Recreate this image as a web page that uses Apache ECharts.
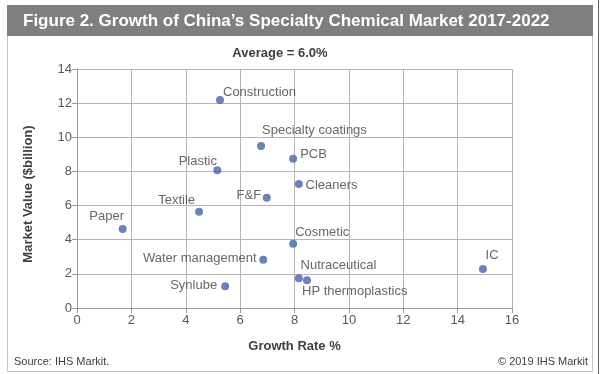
<!DOCTYPE html>
<html>
<head>
<meta charset="utf-8">
<script src="https://cdn.jsdelivr.net/npm/echarts@6/dist/echarts.min.js"></script>
<style>
html,body{margin:0;padding:0;background:#fff;}
#chart{width:600px;height:374px;}
</style>
</head>
<body>
<div id="chart"></div>
<script>
// ---- data ----
var categories = ['Construction','Specialty coatings','PCB','Plastic','Cleaners','F&F','Textile','Paper','Cosmetic','Water management','Nutraceutical','HP thermoplastics','Synlube','IC'];
var growthRate = [5.26, 6.77, 7.95, 5.16, 8.16, 6.98, 4.49, 1.68, 7.95, 6.85, 8.16, 8.46, 5.45, 14.93];
var marketValue = [12.18, 9.49, 8.75, 8.07, 7.26, 6.46, 5.64, 4.63, 3.77, 2.83, 1.74, 1.62, 1.27, 2.28];
var xTicks = [0, 2, 4, 6, 8, 10, 12, 14, 16];
var yTicks = [0, 2, 4, 6, 8, 10, 12, 14];

// ---- label placement (layout only) ----
var labelPlace = [
  ['right', -1, -8], ['right', -3, -16], ['right', 3, -4], ['left', 3.7, -9],
  ['right', 2.7, 1], ['left', -1.7, -2.7], ['left', 0, -11.7], ['left', 5.3, -13],
  ['right', -2, -11.4], ['left', -2.6, -1.4], ['right', -2.3, -13.3], ['right', -9, 10.7],
  ['left', -4, -1.3], ['right', -1.3, -14]
];

var points = categories.map(function (name, i) {
  return {
    name: name,
    value: [growthRate[i], marketValue[i]],
    label: {
      position: labelPlace[i][0],
      distance: 0,
      offset: [labelPlace[i][1], labelPlace[i][2]]
    }
  };
});

var chart = echarts.init(document.getElementById('chart'), null, {renderer: 'canvas'});
var FONT = '"Liberation Sans", Arial, sans-serif';
chart.setOption({
  animation: false,
  textStyle: {fontFamily: FONT},
  grid: {left: 77, right: 88, top: 69, bottom: 66, containLabel: false},
  xAxis: {
    type: 'value', min: xTicks[0], max: xTicks[xTicks.length - 1], interval: 2,
    name: 'Growth Rate %', nameLocation: 'middle', nameGap: 32,
    nameTextStyle: {fontSize: 13, fontWeight: 'bold', color: '#404040', fontFamily: FONT},
    axisLine: {show: true, lineStyle: {color: '#9a9a9a', width: 1}},
    axisTick: {show: true, length: 5, lineStyle: {color: '#9a9a9a'}},
    axisLabel: {fontSize: 13, color: '#595959', margin: 6, fontFamily: FONT},
    splitLine: {show: true, lineStyle: {color: '#b5b5b5', width: 1}}
  },
  yAxis: {
    type: 'value', min: yTicks[0], max: yTicks[yTicks.length - 1], interval: 2,
    axisLine: {show: true, lineStyle: {color: '#9a9a9a', width: 1}},
    axisTick: {show: true, length: 5, lineStyle: {color: '#9a9a9a'}},
    axisLabel: {fontSize: 13, color: '#595959', margin: 5, fontFamily: FONT},
    splitLine: {show: true, lineStyle: {color: '#b5b5b5', width: 1}}
  },
  series: [{
    type: 'scatter',
    symbol: 'circle',
    symbolSize: 8,
    itemStyle: {color: '#4564a8'},
    label: {
      show: true,
      formatter: '{b}',
      fontSize: 13,
      color: '#404040',
      fontFamily: FONT
    },
    data: points
  }],
  graphic: [
    {type: 'rect', shape: {x: 7.5, y: 5.5, width: 585, height: 366}, style: {fill: 'none', stroke: '#c4c4c4', lineWidth: 1}, z: 0},
    {type: 'rect', shape: {x: 7, y: 5, width: 586, height: 31}, style: {fill: '#7f7f7f'}, z: 1},
    {type: 'line', shape: {x1: 598.5, y1: 0, x2: 598.5, y2: 374}, style: {stroke: '#606060', lineWidth: 1}, z: 1},
    {type: 'text', x: 23, y: 21, style: {text: 'Figure 2. Growth of China\u2019s Specialty Chemical Market 2017-2022', fill: '#ffffff', font: 'bold 17px ' + FONT, textVerticalAlign: 'middle'}, z: 2},
    {type: 'text', x: 280, y: 53, style: {text: 'Average = 6.0%', fill: '#404040', font: 'bold 13px ' + FONT, textAlign: 'center', textVerticalAlign: 'middle'}, z: 2},
    {type: 'text', x: 28, y: 194, rotation: Math.PI / 2, style: {text: 'Market Value ($billion)', fill: '#404040', font: 'bold 13px ' + FONT, textAlign: 'center', textVerticalAlign: 'middle'}, z: 2},
    {type: 'text', x: 14, y: 362, style: {text: 'Source: IHS Markit.', fill: '#404040', font: '11px ' + FONT, textVerticalAlign: 'middle'}, z: 2},
    {type: 'text', x: 588, y: 362, style: {text: '\u00a9 2019 IHS Markit', fill: '#404040', font: '11px ' + FONT, textAlign: 'right', textVerticalAlign: 'middle'}, z: 2}
  ]
});
</script>
</body>
</html>
